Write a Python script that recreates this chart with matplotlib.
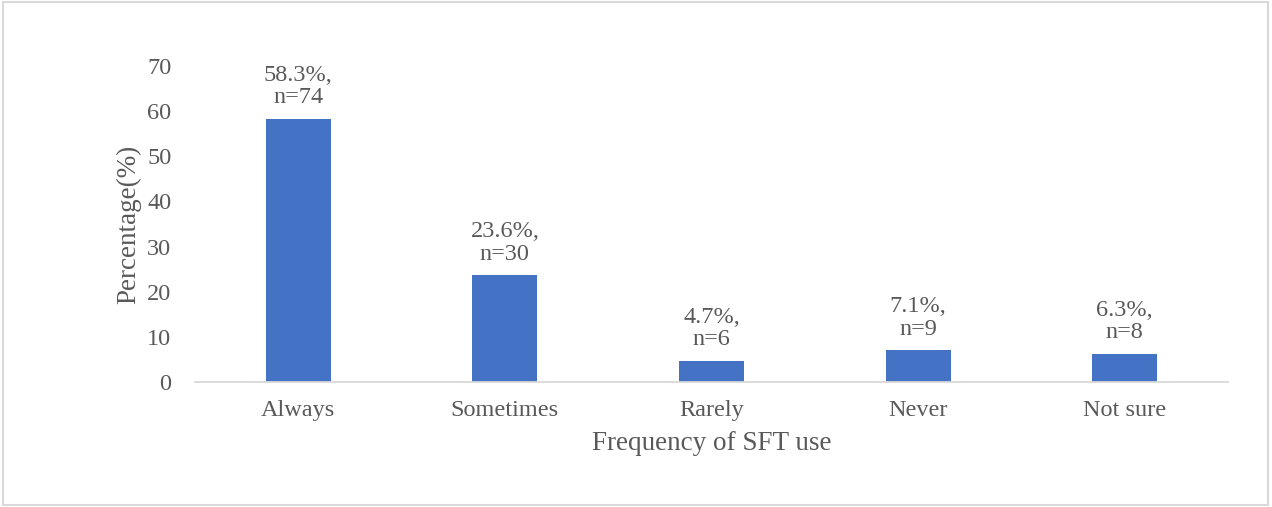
import matplotlib.pyplot as plt
from matplotlib.patches import Rectangle

categories = ["Always", "Sometimes", "Rarely", "Never", "Not sure"]
percent = [58.3, 23.6, 4.7, 7.1, 6.3]
counts = [74, 30, 6, 9, 8]

plt.rcParams['font.family'] = ['Liberation Serif', 'DejaVu Serif']
grey = '#595959'

fig = plt.figure(figsize=(12.72, 5.07), dpi=100)
ax = fig.add_axes([0.1533, 0.2465, 0.8121, 0.6233])

x = range(len(categories))
bars = ax.bar(x, percent, width=0.315, color='#4472C4')

for b, p, n in zip(bars, percent, counts):
    ax.annotate(f"{p}%,\nn={n}", (b.get_x() + b.get_width() / 2, p),
                xytext=(0, 7.5), textcoords='offset points',
                ha='center', va='bottom', fontsize=17.5, color=grey,
                linespacing=1.1)

ax.set_xlim(-0.5, len(categories) - 0.5)
ax.set_ylim(0, 70)
ax.set_yticks(range(0, 71, 10))
ax.set_xticks(list(x))
ax.set_xticklabels(categories)

for s in ['top', 'right', 'left']:
    ax.spines[s].set_visible(False)
ax.spines['bottom'].set_color('#d9d9d9')
ax.spines['bottom'].set_linewidth(1.3)

ax.tick_params(axis='y', length=0, pad=17, labelsize=17.5, labelcolor=grey)
ax.tick_params(axis='x', length=0, pad=13, labelsize=17.5, labelcolor=grey)

ax.set_ylabel("Percentage(%)", fontsize=19.5, color=grey, labelpad=4)
ax.set_xlabel("Frequency of SFT use", fontsize=19.5, color=grey, labelpad=7.5)

# thin frame round the whole chart
fig.patches.append(Rectangle((0.002, 0.004), 0.995, 0.993, transform=fig.transFigure,
                             fill=False, edgecolor='#d9d9d9', linewidth=1.5))

fig.savefig("out.png", dpi=100)
